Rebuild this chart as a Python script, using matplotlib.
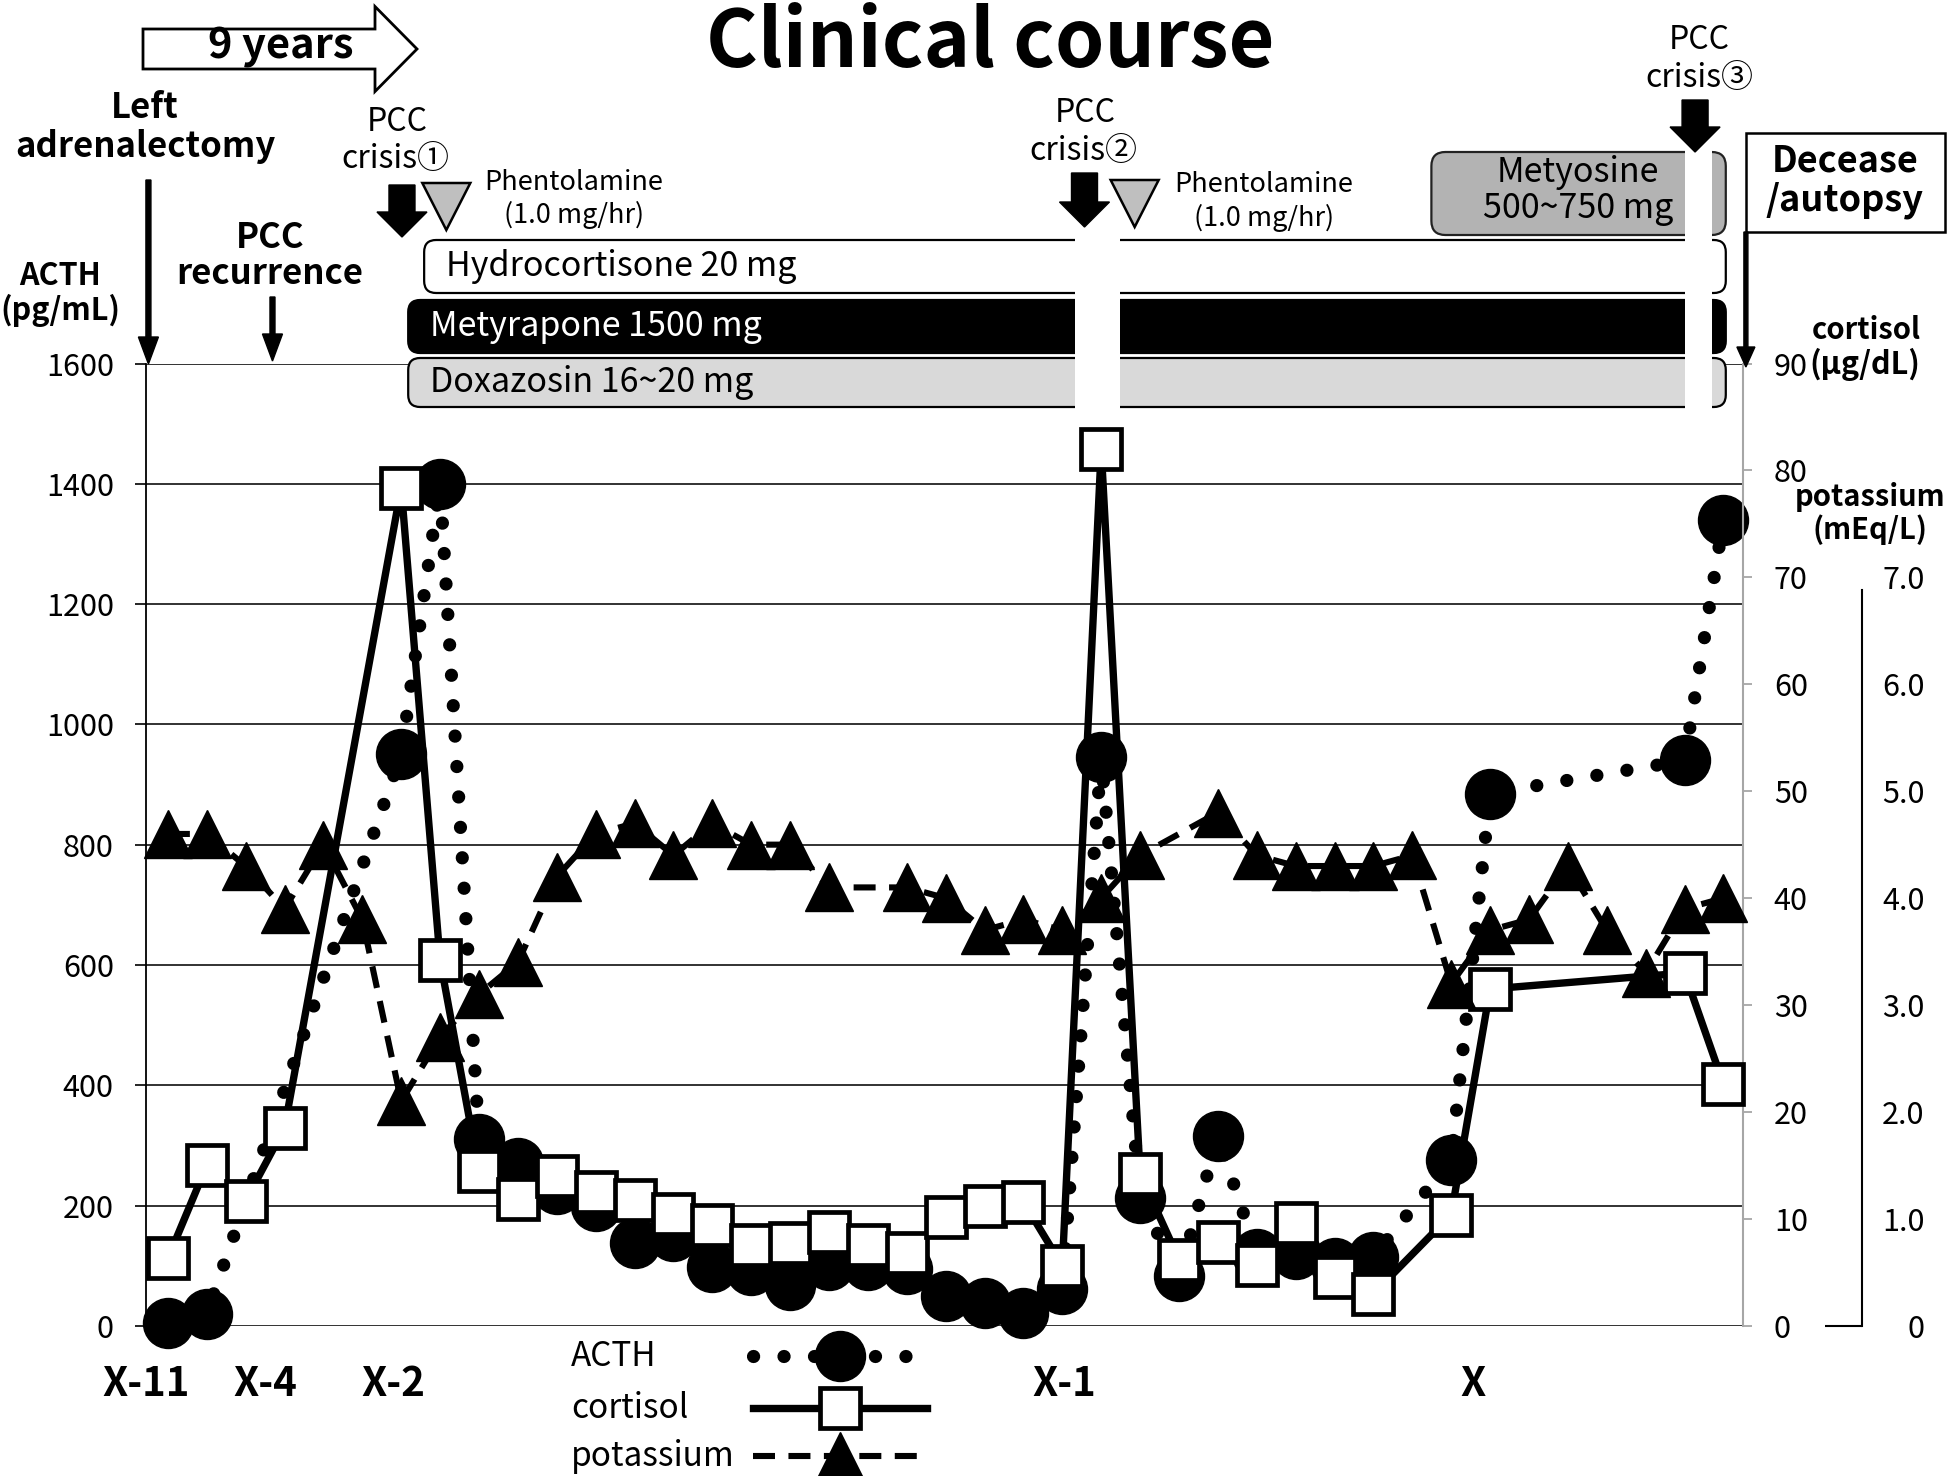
import matplotlib
matplotlib.use("Agg")
import matplotlib.pyplot as plt
from matplotlib.patches import FancyBboxPatch, Rectangle, FancyArrow, Polygon

plt.rcParams["font.family"] = ["Noto Sans CJK JP", "DejaVu Sans"]

# --- data (x = visit index along the course) ---
ACTH_IDX = [0, 1, 6, 7, 8, 9, 10, 11, 12, 13, 14, 15, 16, 17, 18, 19, 20, 21,
            22, 23, 24, 25, 26, 27, 28, 29, 30, 31, 33, 34, 39, 40]
ACTH_VAL = [5, 20, 950, 1400, 310, 270, 228, 200, 137, 150, 98, 92, 68, 101, 101,
            95, 50, 38, 22, 62, 946, 212, 82, 315, 120, 120, 105, 115, 275, 885,
            940, 1340]

CORT_IDX = [0, 1, 2, 3, 6, 7, 8, 9, 10, 11, 12, 13, 14, 15, 16, 17, 18, 19, 20,
            21, 22, 23, 24, 25, 26, 27, 28, 29, 30, 31, 33, 34, 39, 40]
CORT_VAL = [6.3, 15.0, 11.7, 18.5, 78.4, 34.2, 14.5, 11.9, 14.0, 12.5, 11.8, 10.5,
            9.4, 7.6, 7.7, 8.8, 7.6, 6.8, 10.2, 11.2, 11.6, 5.6, 82.0, 14.2, 6.2,
            7.8, 5.7, 9.6, 4.6, 3.0, 10.4, 31.5, 33.0, 22.6]

K_IDX = [0, 1, 2, 3, 4, 5, 6, 7, 8, 9, 10, 11, 12, 13, 14, 15, 16, 17, 19, 20,
         21, 22, 23, 24, 25, 27, 28, 29, 30, 31, 32, 33, 34, 35, 36, 37, 38, 39, 40]
K_VAL = [4.6, 4.6, 4.3, 3.9, 4.5, 3.8, 2.1, 2.7, 3.1, 3.4, 4.2, 4.6, 4.7, 4.4, 4.7,
         4.5, 4.5, 4.1, 4.1, 4.0, 3.7, 3.8, 3.7, 4.0, 4.4, 4.8, 4.4, 4.3, 4.3, 4.3,
         4.4, 3.2, 3.7, 3.8, 4.3, 3.7, 3.3, 3.9, 4.0]

TIME_LABELS = ["X-11", "X-4", "X-2", "X-1", "X"]
TIME_POS = [-0.57, 2.51, 5.80, 23.05, 33.57]

TREATMENTS = ["Hydrocortisone 20 mg", "Metyrapone 1500 mg", "Doxazosin 16~20 mg"]
TREAT_START = [6.59, 6.18, 6.18]
TREAT_END = 40.06
METYOSINE_START = 32.49
CRISIS_POS = [6.02, 23.57, 39.27]
PHENTOLAMINE_POS = [7.16, 24.86]
INTERRUPTIONS = [(23.33, 24.48), (39.0, 39.7)]
RECURRENCE_POS = 2.69

W, H = 1952, 1476
fig = plt.figure(figsize=(W / 100, H / 100), dpi=100)
ax = fig.add_axes([145.7 / W, 1 - 1325.8 / H, 1597.2 / W, 962.3 / H])

acth_style = dict(color="black", ls=(0, (0.01, 2.3)), lw=9.5, dash_capstyle="round",
                  marker="o", ms=36, mfc="black", mec="black")
cort_style = dict(color="black", ls="-", lw=5.3, marker="s", ms=29, mfc="white",
                  mec="black", mew=3.4)
k_style = dict(color="black", ls=(0, (3.6, 2.2)), lw=4.4, marker="^", ms=34,
               mfc="black", mec="black")

# ACTH axis
ax.set_xlim(-0.5, 40.5)
ax.set_ylim(0, 1600)
ax.set_yticks(range(0, 1601, 200))
ax.yaxis.grid(True, color="#222222", lw=1.3)
ax.set_axisbelow(True)
for side in ["top", "right", "bottom"]:
    ax.spines[side].set_visible(False)
ax.spines["left"].set_linewidth(1.3)
ax.tick_params(axis="y", length=8, width=1.2, pad=15, labelsize=22)
ax.set_xticks(TIME_POS, TIME_LABELS, fontsize=29, fontweight="bold", va="center")
ax.tick_params(axis="x", length=0, pad=42)
ax.plot(ACTH_IDX, ACTH_VAL, clip_on=False, zorder=3, **acth_style)

# cortisol axis
ax2 = ax.twinx()
ax2.set_ylim(0, 90)
ax2.set_yticks(range(0, 91, 10))
for side in ["top", "left", "bottom"]:
    ax2.spines[side].set_visible(False)
ax2.spines["right"].set_color("#a6a6a6")
ax2.spines["right"].set_linewidth(1.5)
ax2.tick_params(axis="y", length=6.5, width=1.3, color="#a6a6a6", pad=15.8, labelsize=22)
ax2.plot(CORT_IDX, CORT_VAL, clip_on=False, zorder=3, **cort_style)

# potassium axis
ax3 = ax.twinx()
ax3.set_ylim(0, 9)
for side in ["top", "left", "bottom"]:
    ax3.spines[side].set_visible(False)
ax3.spines["right"].set_position(("axes", 1.0746))
ax3.spines["right"].set_bounds(0, 6.88)
ax3.spines["right"].set_linewidth(1.5)
ax3.set_yticks(range(8), ["0"] + [f"{v}.0" for v in range(1, 8)])
ax3.tick_params(axis="y", which="major", length=0, pad=45, labelsize=22)
for lab in ax3.get_yticklabels():
    lab.set_ha("right")
ax3.yaxis.remove_overlapping_locs = False
ax3.set_yticks([0], minor=True)
ax3.tick_params(axis="y", which="minor", direction="in", length=27, width=1.5)
ax3.plot(K_IDX, K_VAL, clip_on=False, zorder=3, **k_style)


def px(i):
    return ax.transData.transform((i, 0))[0]


# overlay in pixel units for annotations
ov = fig.add_axes([0, 0, 1, 1])
ov.set_xlim(0, W)
ov.set_ylim(H, 0)
ov.axis("off")


def label(x, y, s, size, bold=False, ha="center", color="black"):
    ov.text(x, y, s, fontsize=size, fontweight="bold" if bold else "normal",
            ha=ha, va="center", color=color)


def down_arrow(x, y0, y1, shaft, head, head_len, fc="black", lw=1):
    ov.add_patch(FancyArrow(x, y0, 0, y1 - y0, width=shaft, head_width=head,
                            head_length=head_len, length_includes_head=True,
                            fc=fc, ec="black", lw=lw))


# treatment bars
bar_rows = [(240, 293, "white", "black"), (300, 353, "black", "white"),
            (358, 407, "#d9d9d9", "black")]
for name, start, (top, bot, fc, tc) in zip(TREATMENTS, TREAT_START, bar_rows):
    x0 = px(start)
    ov.add_patch(FancyBboxPatch((x0, top), px(TREAT_END) - x0, bot - top,
                                boxstyle="round,pad=0,rounding_size=12",
                                fc=fc, ec="black", lw=1.6))
    label(x0 + 22, (top + bot) / 2, name, 24.5, ha="left", color=tc)

x0 = px(METYOSINE_START)
ov.add_patch(FancyBboxPatch((x0, 152), px(TREAT_END) - x0, 83,
                            boxstyle="round,pad=0,rounding_size=14",
                            fc="#b3b3b3", ec="#222222", lw=1.6))
label(1578, 172, "Metyosine", 24.5)
label(1578, 208, "500~750 mg", 24.5)

# interruptions of treatment during crises
for (a, b), top in zip(INTERRUPTIONS, [236, 148]):
    ov.add_patch(Rectangle((px(a), top), px(b) - px(a), 412 - top, fc="white", ec="none"))

# crisis arrows and phentolamine markers
crisis_y = [(185, 237), (173, 227), (100, 152)]
for pos, (y0, y1) in zip(CRISIS_POS, crisis_y):
    down_arrow(px(pos), y0, y1, 26, 50, 25)
for pos, (y0, y1) in zip(PHENTOLAMINE_POS, [(183, 230), (180, 227)]):
    x = px(pos)
    ov.add_patch(Polygon([(x - 24, y0), (x + 24, y0), (x, y1)], closed=True,
                         fc="#bfbfbf", ec="black", lw=1.8))

label(397, 122, "PCC", 23)
label(395, 159, "crisis①", 23)
label(1085, 113, "PCC", 23)
label(1083, 151, "crisis②", 23)
label(1699, 40, "PCC", 23)
label(1699, 78, "crisis③", 23)
label(574, 183, "Phentolamine", 19.5)
label(574, 215, "(1.0 mg/hr)", 19.5)
label(1264, 185, "Phentolamine", 19.5)
label(1264, 218, "(1.0 mg/hr)", 19.5)

# top titles
label(990, 43, "Clinical course", 57, bold=True)
ov.add_patch(FancyArrow(143, 49, 274, 0, width=40, head_width=85, head_length=42,
                        length_includes_head=True, fc="white", ec="black", lw=2))
label(281, 47, "9 years", 30, bold=True)

label(145, 107, "Left", 25, bold=True)
label(145, 146, "adrenalectomy", 25, bold=True)
down_arrow(px(-0.5), 180, 364, 5, 20, 27)
label(270, 237, "PCC", 25, bold=True)
label(270, 274, "recurrence", 25, bold=True)
down_arrow(px(RECURRENCE_POS), 297, 361, 5, 20, 27)

label(60, 276, "ACTH", 22, bold=True)
label(60, 310, "(pg/mL)", 22, bold=True)
label(1866, 330, "cortisol", 21, bold=True)
label(1809, 364, "(μg/dL)", 22, bold=True, ha="left")
label(1870, 497, "potassium", 21, bold=True)
label(1870, 530, "(mEq/L)", 21, bold=True)

ov.add_patch(Rectangle((1746, 133), 199, 99, fc="white", ec="black", lw=1.8))
label(1845, 161, "Decease", 26, bold=True)
label(1845, 200, "/autopsy", 26, bold=True)
down_arrow(px(40.5) + 3, 232, 367, 4, 18, 20)

# legend
for y, name, style in zip([1356, 1408, 1456], ["ACTH", "cortisol", "potassium"],
                          [acth_style, cort_style, k_style]):
    label(571, y, name, 24, ha="left")
    ov.plot([753, 840, 927], [y, y, y], markevery=[1], **style)

fig.savefig("out.png", dpi=100)
